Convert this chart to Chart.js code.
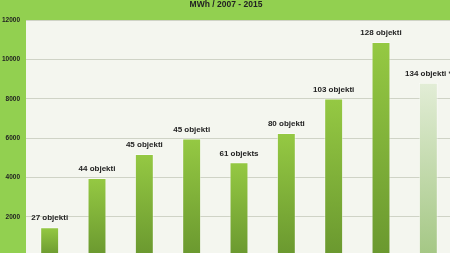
<!DOCTYPE html>
<html>
<head>
<meta charset="utf-8">
<script src="https://cdn.jsdelivr.net/npm/chart.js@4"></script>
<style>
html,body{margin:0;padding:0;background:#92d050;overflow:hidden;width:450px;height:253px}
#cv{position:absolute;left:0;top:0}
</style>
</head>
<body>
<canvas id="cv" width="452" height="266"></canvas>
<script>
// ═══ DATA ═══
var years=['2007','2008','2009','2010','2011','2012','2013','2014','2015'];
var mwh=[1470,3970,5200,5980,4770,6260,8020,10890,8820];
var objLabels=['27 objekti','44 objekti','45 objekti','45 objekti','61 objekts','80 objekti','103 objekti','128 objekti','134 objekti *'];
var forecast=[false,false,false,false,false,false,false,false,true];
var yTicks=[0,2000,4000,6000,8000,10000,12000];

var FONT='"Liberation Sans", Arial, sans-serif';

function barFill(ctx){
  var ch=ctx.chart;if(!ch.chartArea)return '#8fbc45';
  var ys=ch.scales.y;var v=ctx.raw;
  var top=ys.getPixelForValue(v),bot=ys.getPixelForValue(0);
  var g=ch.ctx.createLinearGradient(0,top,0,bot);
  if(forecast[ctx.dataIndex]){
    g.addColorStop(0,'#e2edd6');g.addColorStop(1,'#a4c784');
  } else {
    g.addColorStop(0,'#95c943');g.addColorStop(1,'#6a982f');
  }
  return g;
}

var bgPlugin={id:'bg',beforeDraw:function(ch){
  var c=ch.ctx,a=ch.chartArea;
  c.save();c.fillStyle='#92d050';c.fillRect(0,0,ch.width,ch.height);
  c.fillStyle='#f4f6ef';c.fillRect(a.left,a.top,a.right-a.left,a.bottom-a.top);
  c.restore();
}};

var lblPlugin={id:'lbls',afterDatasetsDraw:function(ch){
  var c=ch.ctx,meta=ch.getDatasetMeta(0);
  c.save();c.font='bold 8px '+FONT;c.fillStyle='#222';c.textAlign='center';c.textBaseline='middle';
  meta.data.forEach(function(b,i){c.fillText(objLabels[i],b.x,b.y-9);});
  c.restore();
}};

new Chart(document.getElementById('cv'),{
  type:'bar',
  data:{labels:years,datasets:[{data:mwh,backgroundColor:barFill,borderColor:'rgba(255,255,255,0.45)',borderWidth:1,
    categoryPercentage:1,barPercentage:0.4}]},
  options:{responsive:false,animation:false,devicePixelRatio:1,
    layout:{padding:0},
    plugins:{legend:{display:false},tooltip:{enabled:false},
      title:{display:true,text:'MWh / 2007 - 2015',color:'#222',font:{family:FONT,size:8.5,weight:'bold'},padding:{top:0,bottom:10}}},
    scales:{
      x:{display:false},
      y:{min:0,max:12000,afterFit:function(s){s.width=26;},
        afterBuildTicks:function(s){s.ticks=yTicks.map(function(v){return{value:v};});},
        border:{display:false},
        grid:{color:'#cfd3c6',lineWidth:1,drawTicks:false},
        ticks:{color:'#222',padding:6,font:{family:FONT,size:6.5,weight:'bold'},callback:function(v){return String(v);}}}
    }
  },
  plugins:[bgPlugin,lblPlugin]
});
</script>
</body>
</html>
